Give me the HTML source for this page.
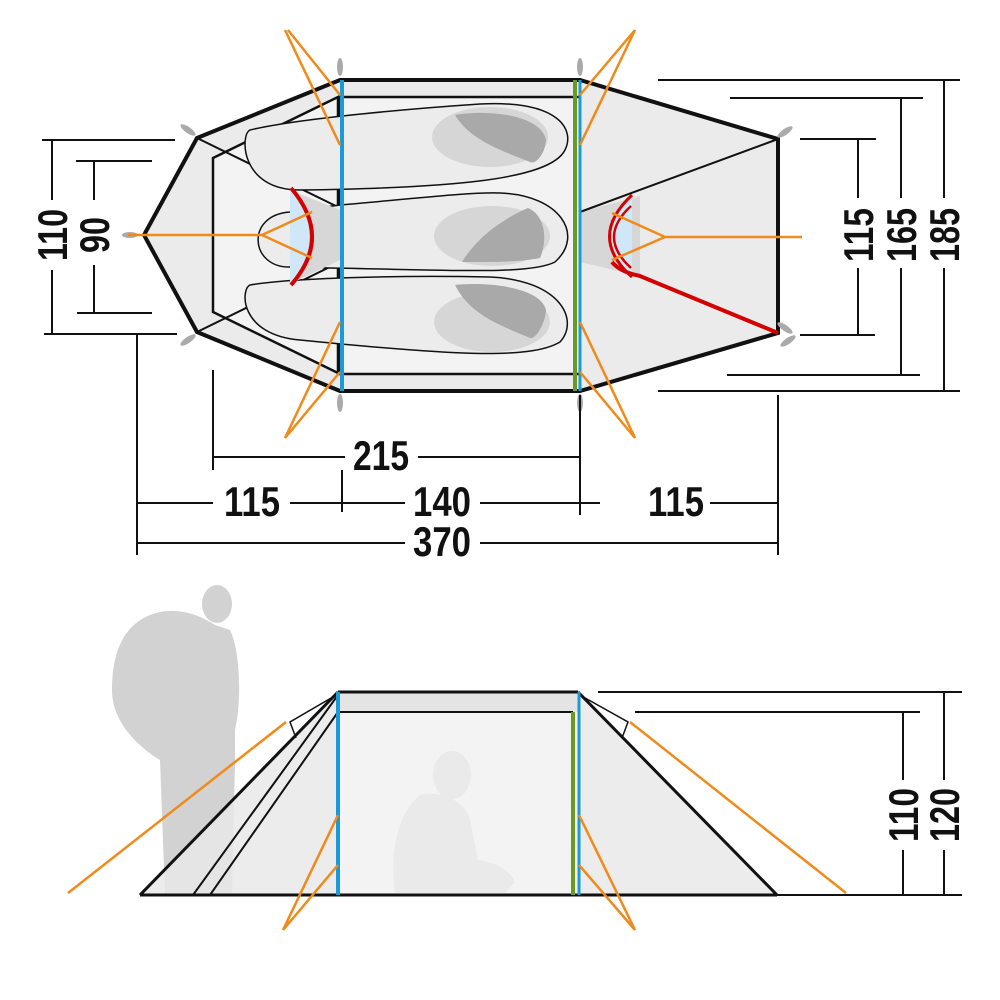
<!DOCTYPE html>
<html><head><meta charset="utf-8"><style>
html,body{margin:0;padding:0;background:#fff;width:1000px;height:1000px;overflow:hidden}
svg text{font-family:"Liberation Sans Narrow","Liberation Sans",sans-serif;font-weight:bold;fill:#111}
</style></head><body>
<svg width="1000" height="1000" viewBox="0 0 1000 1000" xmlns="http://www.w3.org/2000/svg">
<g stroke-linejoin="miter">
<polygon points="144,235 197,138 340,80 580,80 778,139 778,333 580,391 340,391 197,332" fill="#ebebeb" stroke="#111" stroke-width="4"/>
<rect x="340" y="97" width="240" height="277" fill="#f3f3f3" stroke="#111" stroke-width="2.5"/>
<polygon points="338,97 213,158 213,312 338,373" fill="#f3f3f3" stroke="#111" stroke-width="2.5"/>
<line x1="197" y1="138" x2="340" y2="208" stroke="#111" stroke-width="2"/>
<line x1="197" y1="332" x2="340" y2="262" stroke="#111" stroke-width="2"/>
<g fill="#ececec" stroke="#111" stroke-width="1.5">
<path d="M250,130 C300,118 420,108 480,104 C560,100 575,130 565,150 C550,180 450,188 300,190 C240,190 240,135 250,130Z"/>
<path d="M340,205 C420,198 470,192 500,193 C560,195 585,235 555,262 C530,275 450,270 330,268 L290,267 C250,268 245,215 290,212Z"/>
<path d="M250,285 C290,278 400,275 490,277 C560,280 580,320 560,342 C530,360 450,355 300,340 C240,335 240,290 250,285Z"/>
</g>
<g fill="#d6d6d6">
<ellipse cx="490" cy="137" rx="58" ry="30"/>
<ellipse cx="492" cy="236" rx="58" ry="30"/>
<ellipse cx="492" cy="322" rx="58" ry="30"/>
</g>
<g fill="#a9a9a9">
<path d="M455,115 C480,110 540,112 546,140 C545,155 535,165 530,162 C500,150 470,140 455,115Z"/>
<path d="M528,208 C545,215 548,240 540,258 C520,262 500,262 462,262 C475,240 500,220 528,208Z"/>
<path d="M455,285 C480,282 540,285 546,310 C545,325 535,340 530,338 C500,325 470,315 455,285Z"/>
</g>
<polygon points="290,190 340,210 340,260 290,284" fill="#d7d7d7"/>
<path d="M290,190 Q330,237 290,284 Z" fill="#cfe7f7"/>
<path d="M291,188 Q333,237 291,285" fill="none" stroke="#d40000" stroke-width="4"/>
<polygon points="580,212 640,196 640,276 580,262" fill="#d7d7d7"/>
<path d="M632,196 Q592,237 632,276 Z" fill="#cfe7f7"/>
<path d="M632,195 Q587,237 632,277" fill="none" stroke="#d40000" stroke-width="3"/>
<path d="M631,206 Q597,237 631,268" fill="none" stroke="#d40000" stroke-width="2.5"/>
<line x1="580" y1="212" x2="778" y2="139" stroke="#111" stroke-width="2"/>
<path d="M612,262 Q620,272 640,276 L778,333" fill="none" stroke="#d40000" stroke-width="4"/>
<g fill="#aaa">
<ellipse cx="340" cy="67" rx="3" ry="9"/><ellipse cx="340" cy="403" rx="3" ry="9"/>
<ellipse cx="580" cy="67" rx="3" ry="9"/><ellipse cx="580" cy="403" rx="3" ry="9"/>
<ellipse cx="188" cy="130" rx="9" ry="3" transform="rotate(35 188 130)"/>
<ellipse cx="188" cy="340" rx="9" ry="3" transform="rotate(-35 188 340)"/>
<ellipse cx="785" cy="132" rx="9" ry="3" transform="rotate(-35 785 132)"/>
<ellipse cx="785" cy="328" rx="9" ry="3" transform="rotate(35 785 328)"/>
<ellipse cx="788" cy="341" rx="9" ry="3" transform="rotate(-35 788 341)"/>
<ellipse cx="130" cy="235" rx="8" ry="3"/>
</g>
<line x1="342" y1="80" x2="342" y2="391" stroke="#1a9ad8" stroke-width="4"/>
<line x1="575" y1="80" x2="575" y2="391" stroke="#6a9a22" stroke-width="4"/>
<line x1="580" y1="80" x2="580" y2="391" stroke="#1a9ad8" stroke-width="3"/>
<g stroke="#f08a1a" stroke-width="2.5" fill="none">
<line x1="340" y1="95" x2="288" y2="30"/><line x1="340" y1="145" x2="285" y2="30"/>
<line x1="340" y1="322" x2="285" y2="438"/><line x1="340" y1="372" x2="285" y2="438"/>
<line x1="580" y1="145" x2="635" y2="30"/><line x1="580" y1="95" x2="635" y2="30"/>
<line x1="580" y1="322" x2="635" y2="438"/><line x1="580" y1="372" x2="635" y2="438"/>
<polyline points="128,235 262,235 312,212"/><line x1="262" y1="235" x2="312" y2="258"/>
<polyline points="802,237 665,237 612,213"/><line x1="665" y1="237" x2="612" y2="260"/>
</g>
</g>
<g stroke="#111" stroke-width="2" fill="none">
<line x1="42" y1="140" x2="175" y2="140"/><line x1="44" y1="334" x2="177" y2="334"/>
<line x1="76" y1="161" x2="152" y2="161"/><line x1="77" y1="313" x2="152" y2="313"/>
<line x1="52" y1="140" x2="52" y2="200"/><line x1="52" y1="270" x2="52" y2="334"/>
<line x1="94" y1="161" x2="94" y2="200"/><line x1="94" y1="265" x2="94" y2="313"/>
<line x1="658" y1="80" x2="960" y2="80"/><line x1="658" y1="391" x2="960" y2="391"/>
<line x1="730" y1="98" x2="923" y2="98"/><line x1="727" y1="375" x2="920" y2="375"/>
<line x1="800" y1="139" x2="876" y2="139"/><line x1="800" y1="335" x2="875" y2="335"/>
<line x1="944" y1="80" x2="944" y2="198"/><line x1="944" y1="268" x2="944" y2="391"/>
<line x1="901" y1="98" x2="901" y2="198"/><line x1="901" y1="268" x2="901" y2="375"/>
<line x1="858" y1="139" x2="858" y2="198"/><line x1="858" y1="268" x2="858" y2="335"/>
<line x1="137" y1="334" x2="137" y2="555"/>
<line x1="213" y1="370" x2="213" y2="470"/>
<line x1="580" y1="395" x2="580" y2="515"/>
<line x1="778" y1="395" x2="778" y2="555"/>
<line x1="342" y1="470" x2="342" y2="512"/>
<line x1="213" y1="457" x2="345" y2="457"/><line x1="418" y1="457" x2="580" y2="457"/>
<line x1="137" y1="503" x2="213" y2="503"/><line x1="290" y1="503" x2="405" y2="503"/><line x1="480" y1="503" x2="600" y2="503"/><line x1="710" y1="503" x2="778" y2="503"/>
<line x1="137" y1="543" x2="405" y2="543"/><line x1="480" y1="543" x2="778" y2="543"/>
</g>
<g font-size="42">
<text x="381" y="470" text-anchor="middle" textLength="56" lengthAdjust="spacingAndGlyphs">215</text>
<text x="252" y="516" text-anchor="middle" textLength="56" lengthAdjust="spacingAndGlyphs">115</text>
<text x="442" y="516" text-anchor="middle" textLength="58" lengthAdjust="spacingAndGlyphs">140</text>
<text x="676" y="516" text-anchor="middle" textLength="56" lengthAdjust="spacingAndGlyphs">115</text>
<text x="442" y="556" text-anchor="middle" textLength="58" lengthAdjust="spacingAndGlyphs">370</text>
<text transform="translate(67,235) rotate(-90)" text-anchor="middle" textLength="52" lengthAdjust="spacingAndGlyphs">110</text>
<text transform="translate(109,235) rotate(-90)" text-anchor="middle" textLength="36" lengthAdjust="spacingAndGlyphs">90</text>
<text transform="translate(873,235) rotate(-90)" text-anchor="middle" textLength="54" lengthAdjust="spacingAndGlyphs">115</text>
<text transform="translate(916,235) rotate(-90)" text-anchor="middle" textLength="54" lengthAdjust="spacingAndGlyphs">165</text>
<text transform="translate(959,235) rotate(-90)" text-anchor="middle" textLength="54" lengthAdjust="spacingAndGlyphs">185</text>
<text transform="translate(918,815) rotate(-90)" text-anchor="middle" textLength="54" lengthAdjust="spacingAndGlyphs">110</text>
<text transform="translate(959,815) rotate(-90)" text-anchor="middle" textLength="54" lengthAdjust="spacingAndGlyphs">120</text>
</g>
<g fill="#d2d2d2">
<ellipse cx="217" cy="604" rx="15" ry="19"/>
<path d="M150,615 C175,605 200,615 215,625 L230,630 C240,650 242,700 235,730 L235,760 L232,895 L165,895 L160,760 C135,745 112,720 112,690 C112,650 125,625 150,615Z"/>
</g>
<g fill="#d2d2d2">
<ellipse cx="452" cy="775" rx="19" ry="24"/>
<path d="M420,795 C440,790 465,800 470,820 L478,860 C495,862 510,870 515,882 L505,893 L395,893 C390,860 395,815 420,795Z"/>
</g>
<polygon points="338,692 140,895 338,895" fill="#e9e9e9" fill-opacity="0.85"/>
<polygon points="578,692 777,895 578,895" fill="#e9e9e9" fill-opacity="0.85"/>
<rect x="338" y="692" width="240" height="203" fill="#f0f0f0" fill-opacity="0.8"/>
<rect x="338" y="692" width="240" height="20" fill="#e4e4e4"/>
<g stroke="#111" fill="none">
<line x1="338" y1="692" x2="578" y2="692" stroke-width="3"/>
<line x1="338" y1="712" x2="573" y2="712" stroke-width="2"/>
<line x1="338" y1="692" x2="140" y2="895" stroke-width="3"/>
<line x1="338" y1="695" x2="193" y2="895" stroke-width="2"/>
<line x1="338" y1="712" x2="210" y2="895" stroke-width="2"/>
<line x1="578" y1="692" x2="777" y2="895" stroke-width="3"/>
<line x1="140" y1="895" x2="777" y2="895" stroke-width="3"/>
<polyline points="338,694 290,722 296,738" stroke-width="1.5"/>
<polyline points="578,694 628,722 622,738" stroke-width="1.5"/>
</g>
<line x1="338" y1="692" x2="338" y2="895" stroke="#1a9ad8" stroke-width="4"/>
<line x1="573" y1="712" x2="573" y2="895" stroke="#6a9a22" stroke-width="4"/>
<line x1="579" y1="692" x2="579" y2="895" stroke="#1a9ad8" stroke-width="3"/>
<g stroke="#f08a1a" stroke-width="2.5">
<line x1="286" y1="722" x2="68" y2="893"/>
<line x1="630" y1="722" x2="846" y2="893"/>
<line x1="338" y1="815" x2="283" y2="930"/><line x1="338" y1="865" x2="283" y2="930"/>
<line x1="579" y1="815" x2="635" y2="930"/><line x1="579" y1="865" x2="635" y2="930"/>
</g>
<g stroke="#111" stroke-width="2">
<line x1="598" y1="692" x2="962" y2="692"/>
<line x1="635" y1="712" x2="920" y2="712"/>
<line x1="777" y1="895" x2="962" y2="895"/>
<line x1="903" y1="712" x2="903" y2="780"/><line x1="903" y1="850" x2="903" y2="895"/>
<line x1="944" y1="692" x2="944" y2="780"/><line x1="944" y1="850" x2="944" y2="895"/>
</g>
</svg>
</body></html>
